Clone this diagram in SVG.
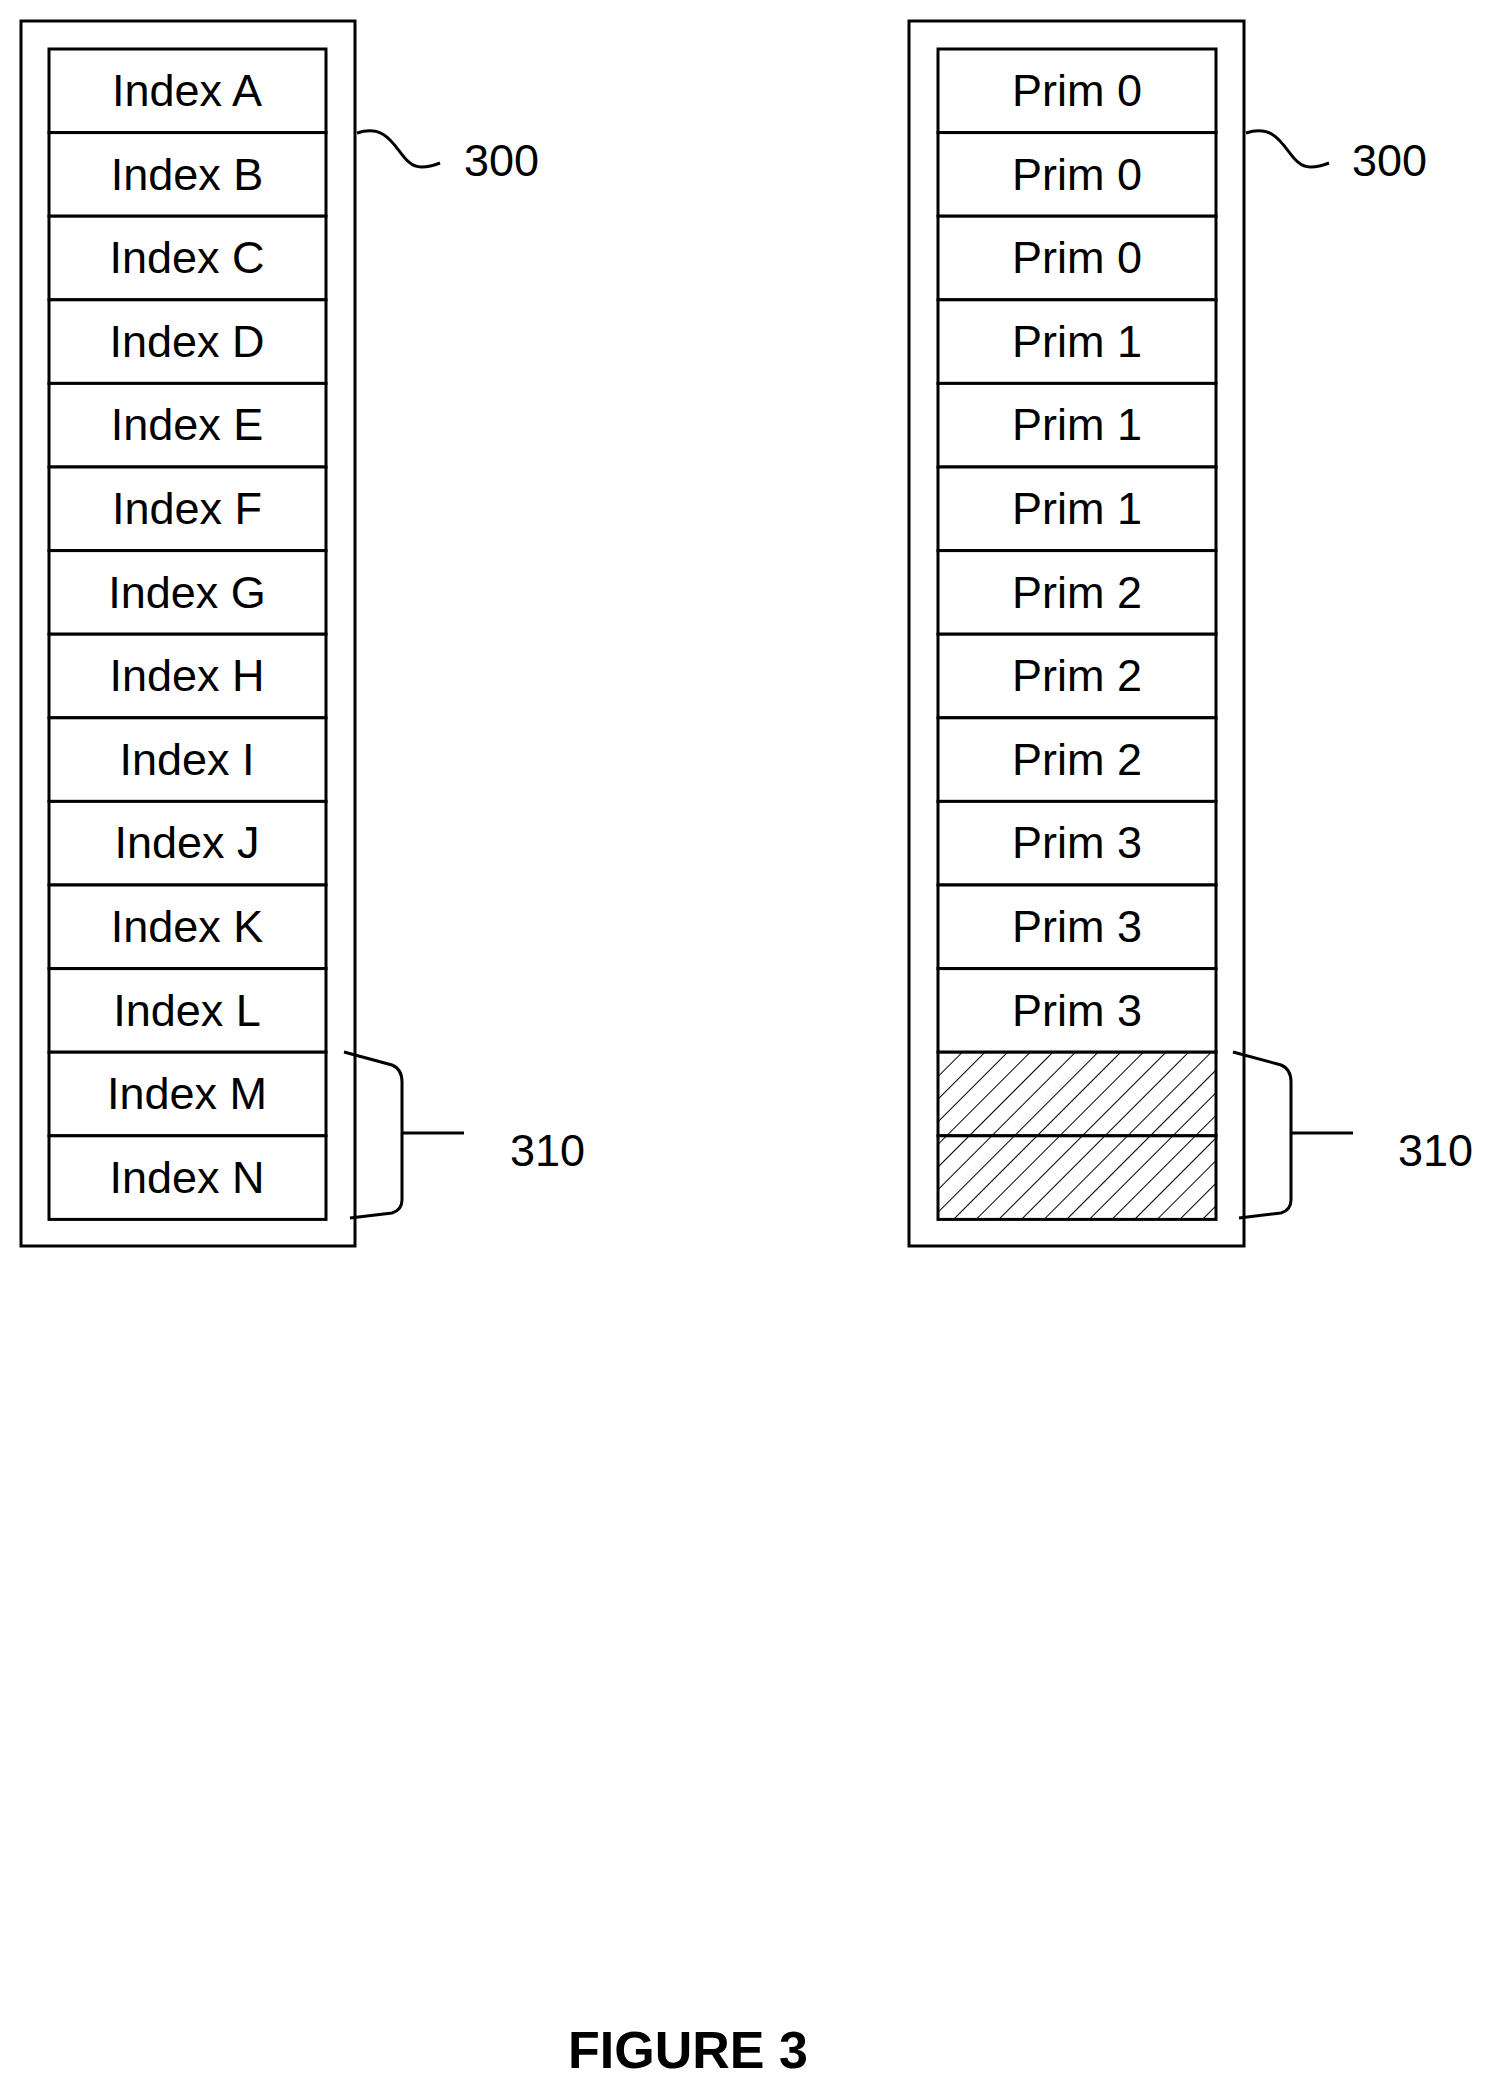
<svg xmlns="http://www.w3.org/2000/svg" width="1499" height="2095" viewBox="0 0 1499 2095">
<style>
.b{fill:none;stroke:#000;stroke-width:3}
.r{fill:#fff;stroke:#000;stroke-width:3}
.h{fill:url(#hatch);stroke:#000;stroke-width:3}
text{font-family:"Liberation Sans",Arial,sans-serif;font-size:45px;fill:#000}
.c{text-anchor:middle}
</style>
<defs>
<pattern id="hatch" patternUnits="userSpaceOnUse" width="16" height="16" patternTransform="rotate(45)">
<rect width="16" height="16" fill="#fff"/>
<line x1="0" y1="0" x2="0" y2="16" stroke="#000" stroke-width="2"/>
</pattern>
</defs>
<rect width="1499" height="2095" fill="#fff"/>
<g id="left">
<rect class="b" x="21" y="21" width="334" height="1225"/>
<g id="lrows">
<rect class="r" x="49" y="49" width="277" height="83.6"/><text class="c" x="187" y="106">Index A</text>
<rect class="r" x="49" y="132.6" width="277" height="83.6"/><text class="c" x="187" y="189.6">Index B</text>
<rect class="r" x="49" y="216.2" width="277" height="83.6"/><text class="c" x="187" y="273.2">Index C</text>
<rect class="r" x="49" y="299.8" width="277" height="83.6"/><text class="c" x="187" y="356.8">Index D</text>
<rect class="r" x="49" y="383.4" width="277" height="83.6"/><text class="c" x="187" y="440.4">Index E</text>
<rect class="r" x="49" y="467" width="277" height="83.6"/><text class="c" x="187" y="524">Index F</text>
<rect class="r" x="49" y="550.6" width="277" height="83.6"/><text class="c" x="187" y="607.6">Index G</text>
<rect class="r" x="49" y="634.2" width="277" height="83.6"/><text class="c" x="187" y="691.2">Index H</text>
<rect class="r" x="49" y="717.8" width="277" height="83.6"/><text class="c" x="187" y="774.8">Index I</text>
<rect class="r" x="49" y="801.4" width="277" height="83.6"/><text class="c" x="187" y="858.4">Index J</text>
<rect class="r" x="49" y="885" width="277" height="83.6"/><text class="c" x="187" y="942">Index K</text>
<rect class="r" x="49" y="968.6" width="277" height="83.6"/><text class="c" x="187" y="1025.6">Index L</text>
<rect class="r" x="49" y="1052.2" width="277" height="83.6"/><text class="c" x="187" y="1109.2">Index M</text>
<rect class="r" x="49" y="1135.8" width="277" height="83.6"/><text class="c" x="187" y="1192.8">Index N</text>
</g>
</g>
<g id="right">
<rect class="b" x="909" y="21" width="335" height="1225"/>
<g id="rrows">
<rect class="r" x="938" y="49" width="278" height="83.6"/><text class="c" x="1077" y="106">Prim 0</text>
<rect class="r" x="938" y="132.6" width="278" height="83.6"/><text class="c" x="1077" y="189.6">Prim 0</text>
<rect class="r" x="938" y="216.2" width="278" height="83.6"/><text class="c" x="1077" y="273.2">Prim 0</text>
<rect class="r" x="938" y="299.8" width="278" height="83.6"/><text class="c" x="1077" y="356.8">Prim 1</text>
<rect class="r" x="938" y="383.4" width="278" height="83.6"/><text class="c" x="1077" y="440.4">Prim 1</text>
<rect class="r" x="938" y="467" width="278" height="83.6"/><text class="c" x="1077" y="524">Prim 1</text>
<rect class="r" x="938" y="550.6" width="278" height="83.6"/><text class="c" x="1077" y="607.6">Prim 2</text>
<rect class="r" x="938" y="634.2" width="278" height="83.6"/><text class="c" x="1077" y="691.2">Prim 2</text>
<rect class="r" x="938" y="717.8" width="278" height="83.6"/><text class="c" x="1077" y="774.8">Prim 2</text>
<rect class="r" x="938" y="801.4" width="278" height="83.6"/><text class="c" x="1077" y="858.4">Prim 3</text>
<rect class="r" x="938" y="885" width="278" height="83.6"/><text class="c" x="1077" y="942">Prim 3</text>
<rect class="r" x="938" y="968.6" width="278" height="83.6"/><text class="c" x="1077" y="1025.6">Prim 3</text>
<rect class="h" x="938" y="1052.2" width="278" height="83.6"/>
<rect class="h" x="938" y="1135.8" width="278" height="83.6"/>
</g>
</g>
<g id="connectors">
<path class="b" d="M357,133 C397,120 397,168 422,167 C430,167 435,165 440,163"/>
<path class="b" d="M1246,133 C1286,120 1286,168 1311,167 C1319,167 1324,165 1329,163"/>
<path class="b" d="M344,1052 L392,1065 Q402,1069 402,1082 L402,1200 Q402,1210 392,1213 L350,1218 M402,1133 L464,1133"/>
<path class="b" d="M1233,1052 L1281,1065 Q1291,1069 1291,1082 L1291,1200 Q1291,1210 1281,1213 L1239,1218 M1291,1133 L1353,1133"/>
</g>
<g id="labels">
<text x="464" y="176">300</text>
<text x="1352" y="176">300</text>
<text x="510" y="1166">310</text>
<text x="1398" y="1166">310</text>
<text class="c" x="688" y="2068" style="font-weight:bold;font-size:52px">FIGURE 3</text>
</g>
</svg>
